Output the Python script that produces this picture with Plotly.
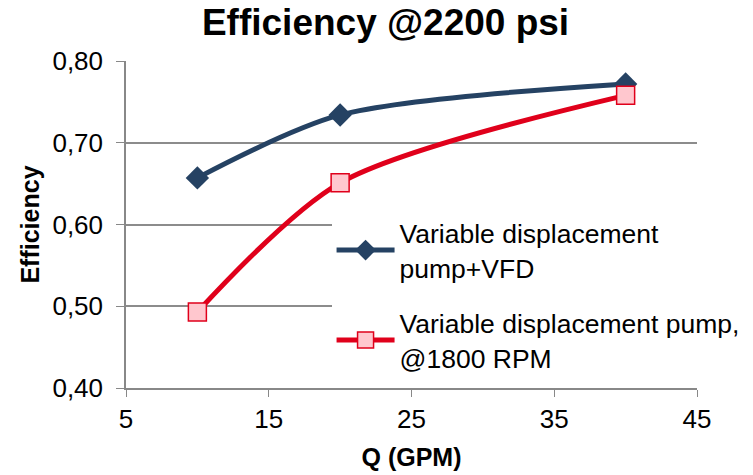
import plotly.graph_objects as go

q = [10, 20, 40]
eff_vfd = [0.657, 0.734, 0.772]
eff_1800 = [0.493, 0.651, 0.758]
names = ["Variable displacement<br>pump+VFD", "Variable displacement pump,<br>@1800 RPM"]

fig = go.Figure()
fig.add_trace(go.Scatter(
    x=q, y=eff_vfd, name=names[0], mode="lines+markers",
    line=dict(color="#254263", width=5, shape="spline", smoothing=0.8),
    marker=dict(symbol="diamond", size=18, color="#254263"),
    legendgroup="a"))
fig.add_trace(go.Scatter(
    x=q, y=eff_1800, name=names[1], mode="lines+markers",
    line=dict(color="#e0001b", width=5, shape="spline", smoothing=0.8),
    marker=dict(symbol="square", size=18, color="#ffc7ce", line=dict(color="#e0001b", width=1.5)),
    legendgroup="b"))

fig.update_layout(
    width=753, height=475,
    margin=dict(l=126, r=56, t=61, b=87, autoexpand=False),
    paper_bgcolor="white", plot_bgcolor="white",
    separators=",.",
    font=dict(family="Liberation Sans, Arial", color="black", size=26),
    title=dict(text="<b>Efficiency @2200 psi</b>", x=0.512, xanchor="center", y=0.953, yanchor="middle",
               font=dict(size=37, color="black")),
    xaxis=dict(range=[5, 45], tickvals=[5, 15, 25, 35, 45], showgrid=False,
               showline=True, linecolor="#888888", linewidth=1.5,
               ticks="outside", ticklen=7, tickcolor="#888888", zeroline=False,
               title=dict(text="<b>Q (GPM)</b>", font=dict(size=25), standoff=16),
               tickfont=dict(size=26)),
    yaxis=dict(range=[0.40, 0.80], tickvals=[0.4, 0.5, 0.6, 0.7, 0.8], tickformat=".2f",
               showgrid=True, gridcolor="#8c8c8c", gridwidth=1.5,
               showline=True, linecolor="#888888", linewidth=1.5,
               ticks="outside", ticklen=8, tickcolor="#888888", zeroline=False,
               ticklabelstandoff=8,
               title=dict(text="<b>Efficiency</b>", font=dict(size=25), standoff=6),
               tickfont=dict(size=26)),
    legend=dict(x=0.36, y=0.547, xanchor="left", yanchor="top", bgcolor="white",
                font=dict(size=26.5), traceorder="grouped", tracegroupgap=18,
                itemwidth=58),
    showlegend=True,
)

fig.write_html("out.html")
